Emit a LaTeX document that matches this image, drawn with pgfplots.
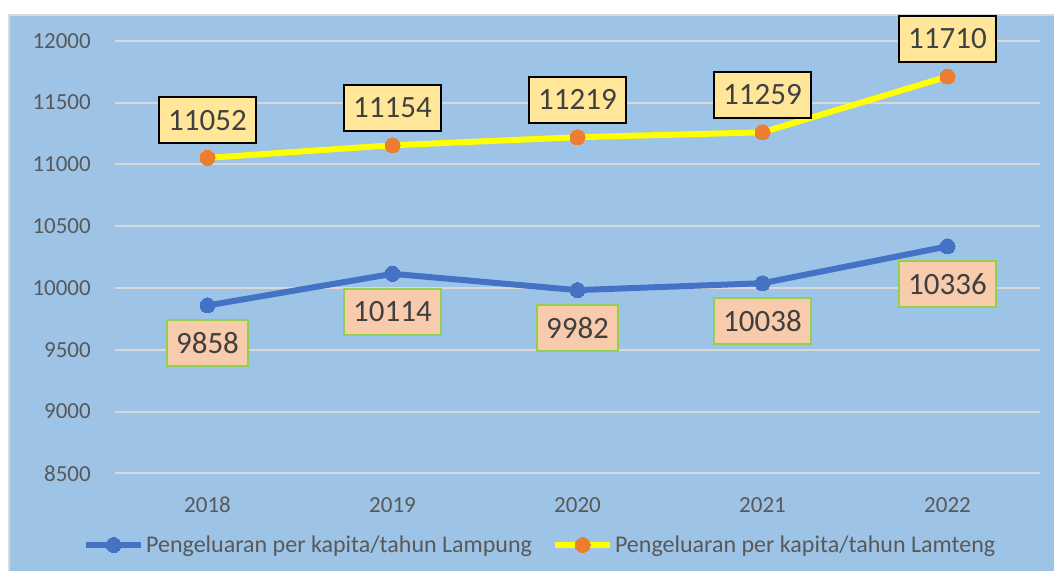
\documentclass[border=0pt]{standalone}
\usepackage{fontspec}
\setmainfont{Carlito}
\usepackage{pgfplots}
\pgfplotsset{compat=1.18}
\definecolor{bgblue}{HTML}{9DC3E6}
\definecolor{gridc}{HTML}{D9D9D9}
\definecolor{tickc}{HTML}{595959}
\definecolor{labc}{HTML}{404040}
\definecolor{lblue}{HTML}{4472C4}
\definecolor{lorange}{HTML}{ED7D31}
\definecolor{lyellow}{HTML}{FFFF00}
\definecolor{boxy}{HTML}{FFE699}
\definecolor{boxo}{HTML}{F8CBAD}
\definecolor{boxg}{HTML}{92D050}
\begin{document}
\begin{tikzpicture}
\useasboundingbox (0pt,0pt) rectangle (1054pt,571pt);
\fill[bgblue] (9pt,0pt) rectangle (1054pt,556pt);
\draw[gridc, line width=2pt] (9pt,0pt) -- (9pt,556pt) -- (1054pt,556pt);
\begin{axis}[
  at={(115pt,97.7pt)}, anchor=south west,
  scale only axis, width=925pt, height=432.6pt,
  xmin=-0.5, xmax=4.5, ymin=8500, ymax=12000,
  clip=false,
  axis line style={draw=none},
  tick style={draw=none},
  xtick={0,1,2,3,4},
  xticklabels={2018,2019,2020,2021,2022},
  ytick={8500,9000,...,12000},
  scaled y ticks=false,
  ymajorgrids,
  grid style={gridc, line width=2pt},
  major tick length=0pt,
  /pgf/number format/1000 sep={},
  /pgf/number format/assume math mode=true,
  tick label style={font=\fontsize{23}{27}\selectfont, text=tickc, inner sep=0pt},
  yticklabel style={anchor=east, xshift=-24pt},
  xticklabel style={anchor=center, yshift=-31.7pt},
  legend columns=2,
  legend style={draw=none, fill=none, inner sep=0pt,
    at={(-0.0346,-0.1657)}, anchor=west,
    font=\fontsize{24}{28}\selectfont, text=tickc,
    nodes={inner sep=2pt},
    /tikz/every even column/.append style={column sep=18pt}},
  legend image code/.code={\draw[mark repeat=2,mark phase=2,#1] plot coordinates {(0pt,0pt)(27.5pt,0pt)(55pt,0pt)};},
  nodes near coords,
]
\addplot[lblue, line width=6pt, mark=*, mark size=7.5pt, mark options={fill=lblue, draw=lblue, line width=0pt},
  nodes near coords style={anchor=center, yshift=-38pt, font=\fontsize{31}{36}\selectfont, text=labc,
    fill=boxo, draw=boxg, line width=2pt, minimum height=46pt, inner xsep=9pt, inner ysep=0pt}]
  coordinates {(0,9858) (1,10114) (2,9982) (3,10038) (4,10336)};
\addlegendentry{Pengeluaran per kapita/tahun Lampung}
\addplot[lyellow, line width=6pt, mark=*, mark size=7.5pt, mark options={fill=lorange, draw=lorange, line width=0pt},
  nodes near coords style={anchor=center, yshift=37.5pt, font=\fontsize{31}{36}\selectfont, text=labc,
    fill=boxy, draw=black, line width=2pt, minimum height=46pt, inner xsep=9pt, inner ysep=0pt}]
  coordinates {(0,11052) (1,11154) (2,11219) (3,11259) (4,11710)};
\addlegendentry{Pengeluaran per kapita/tahun Lamteng}
\end{axis}
\end{tikzpicture}
\end{document}
